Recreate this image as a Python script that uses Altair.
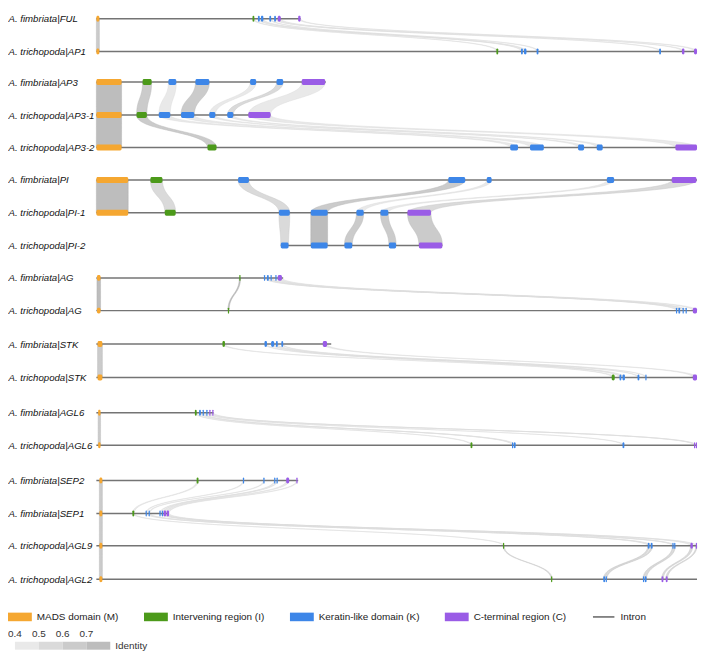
import json
import numpy as np
import pandas as pd
import altair as alt

# ---------------- data (positions in % of the longest gene of each family) -------------
ROWS = ["A. fimbriata|FUL", "A. trichopoda|AP1",
        "A. fimbriata|AP3", "A. trichopoda|AP3-1", "A. trichopoda|AP3-2",
        "A. fimbriata|PI", "A. trichopoda|PI-1", "A. trichopoda|PI-2",
        "A. fimbriata|AG", "A. trichopoda|AG",
        "A. fimbriata|STK", "A. trichopoda|STK",
        "A. fimbriata|AGL6", "A. trichopoda|AGL6",
        "A. fimbriata|SEP2", "A. fimbriata|SEP1", "A. trichopoda|AGL9", "A. trichopoda|AGL2"]

# vertical slot of each row (layout)
ROW_Y = [11.5, 45.0, 76.3, 110.1, 143.3, 176.5, 210.1, 243.6, 276.7, 310.2,
         344.4, 378.6, 414.7, 448.0, 484.1, 517.7, 550.8, 585.0]

GENE_START = [0, 0, 0, 0, 0, 0, 0, 30.7, 0, 0, 0, 0, 0, 0, 0, 0, 0, 0]
GENE_END = [34.0, 100, 38.2, 29.0, 100, 100, 55.7, 57.6, 31.1, 100,
            39.1, 100, 19.5, 100, 33.6, 12.1, 100, 100]

EX_FUL = [("M", 0, 0.5), ("I", 26.0, 26.3), ("K", 26.9, 27.2), ("K", 27.4, 27.8), ("K", 28.8, 29.1),
          ("K", 29.6, 29.9), ("C", 30.2, 30.7), ("C", 33.6, 34.0)]
EX_AP1 = [("M", 0, 0.5), ("I", 66.6, 66.9), ("K", 70.7, 71.0), ("K", 71.2, 71.6), ("K", 73.3, 73.6),
          ("K", 93.7, 94.0), ("C", 97.5, 97.9), ("C", 99.5, 100)]
EX_AP3 = [("M", 0, 4.2), ("I", 7.7, 9.2), ("K", 12.0, 13.3), ("K", 16.5, 18.8), ("K", 25.6, 26.6),
          ("K", 30.0, 31.1), ("C", 34.2, 38.1)]
EX_AP3_1 = [("M", 0, 4.2), ("I", 6.7, 8.4), ("K", 10.4, 12.3), ("K", 14.1, 16.3), ("K", 18.8, 19.8),
            ("K", 21.8, 22.8), ("C", 25.3, 29.0)]
EX_AP3_2 = [("M", 0, 4.2), ("I", 18.5, 20.0), ("K", 68.9, 70.2), ("K", 72.2, 74.5), ("K", 80.2, 81.2),
            ("K", 83.3, 84.3), ("C", 96.4, 100)]
EX_PI = [("M", 0, 5.3), ("I", 9.0, 11.0), ("K", 23.6, 25.4), ("K", 58.6, 61.4), ("K", 65.0, 65.8),
         ("K", 85.0, 86.2), ("C", 95.8, 99.9)]
EX_PI_1 = [("M", 0, 5.3), ("I", 11.4, 13.2), ("K", 30.4, 32.2), ("K", 35.7, 38.5), ("K", 43.3, 44.5),
           ("K", 47.3, 48.6), ("C", 51.8, 55.7)]
EX_PI_2 = [("K", 30.7, 32.0), ("K", 35.7, 38.5), ("K", 41.3, 42.6), ("K", 48.7, 49.9), ("C", 53.7, 57.6)]
EX_AG_F = [("M", 0.1, 0.7), ("I", 23.8, 24.0), ("K", 27.9, 28.1), ("K", 28.4, 28.7), ("K", 29.0, 29.2),
           ("K", 29.8, 30.0), ("C", 30.2, 30.9)]
EX_AG_T = [("M", 0.1, 0.7), ("I", 21.9, 22.1), ("K", 96.5, 96.7), ("K", 96.9, 97.2), ("K", 97.6, 97.8),
           ("K", 98.1, 98.3), ("C", 99.3, 100)]
EX_STK_F = [("M", 0.2, 1.0), ("I", 21.0, 21.4), ("K", 28.0, 28.4), ("K", 29.1, 29.6), ("K", 29.9, 30.2),
            ("K", 30.8, 31.1), ("C", 37.7, 38.4)]
EX_STK_T = [("M", 0.2, 1.0), ("I", 85.8, 86.3), ("K", 87.1, 87.4), ("K", 87.6, 88.0), ("K", 90.1, 90.4),
            ("K", 91.4, 91.6), ("C", 99.3, 100)]
EX_AGL6_F = [("M", 0.3, 0.7), ("I", 16.4, 16.7), ("K", 17.1, 17.4), ("K", 17.7, 17.9), ("K", 18.3, 18.5),
             ("C", 18.8, 19.0), ("C", 19.3, 19.5)]
EX_AGL6_T = [("M", 0.3, 0.7), ("I", 62.3, 62.6), ("K", 69.2, 69.4), ("K", 69.5, 69.8), ("K", 87.6, 87.9),
             ("C", 99.5, 99.7), ("C", 99.8, 100)]
EX_SEP2 = [("M", 0.5, 1.0), ("I", 16.7, 17.0), ("K", 24.4, 24.6), ("K", 27.8, 28.0), ("K", 29.6, 29.8),
           ("K", 30.0, 30.2), ("C", 31.6, 32.1), ("C", 33.3, 33.5)]
EX_SEP1 = [("M", 0.5, 1.0), ("I", 6.0, 6.3), ("K", 8.2, 8.4), ("K", 8.7, 8.9), ("K", 10.5, 10.7),
           ("K", 10.9, 11.1), ("C", 11.2, 11.6), ("C", 11.7, 12.1)]
EX_AGL9 = [("M", 0.5, 1.0), ("I", 67.7, 67.9), ("K", 91.8, 92.1), ("K", 92.3, 92.6), ("K", 95.9, 96.1),
           ("K", 96.2, 96.4), ("C", 98.9, 99.3), ("C", 99.8, 100)]
EX_AGL2 = [("M", 0.5, 1.0), ("I", 75.7, 75.9), ("K", 84.4, 84.7), ("K", 84.8, 85.0), ("K", 91.0, 91.2),
           ("K", 91.3, 91.6), ("C", 94.1, 94.4), ("C", 94.8, 95.1)]

EXONS = [EX_FUL, EX_AP1, EX_AP3, EX_AP3_1, EX_AP3_2, EX_PI, EX_PI_1, EX_PI_2,
         EX_AG_F, EX_AG_T, EX_STK_F, EX_STK_T, EX_AGL6_F, EX_AGL6_T,
         EX_SEP2, EX_SEP1, EX_AGL9, EX_AGL2]

# homology links: (upper row, exon idx, lower row, exon idx, identity)
LINKS_FUL = [(0, 0, 1, 0, 0.65), (0, 1, 1, 1, 0.45), (0, 2, 1, 2, 0.42), (0, 3, 1, 3, 0.42),
             (0, 4, 1, 4, 0.42), (0, 5, 1, 5, 0.42), (0, 6, 1, 6, 0.42), (0, 7, 1, 7, 0.42)]
LINKS_AP3 = [(2, 0, 3, 0, 0.75), (2, 1, 3, 1, 0.62), (2, 2, 3, 2, 0.42), (2, 3, 3, 3, 0.65),
             (2, 4, 3, 4, 0.42), (2, 5, 3, 5, 0.5), (2, 6, 3, 6, 0.48),
             (3, 0, 4, 0, 0.75), (3, 1, 4, 1, 0.62), (3, 2, 4, 2, 0.45), (3, 3, 4, 3, 0.45),
             (3, 4, 4, 4, 0.42), (3, 5, 4, 5, 0.42), (3, 6, 4, 6, 0.42)]
LINKS_PI = [(5, 0, 6, 0, 0.75), (5, 1, 6, 1, 0.55), (5, 2, 6, 2, 0.55), (5, 3, 6, 3, 0.62),
            (5, 4, 6, 4, 0.42), (5, 5, 6, 5, 0.45), (5, 6, 6, 6, 0.52),
            (6, 2, 7, 0, 0.55), (6, 3, 7, 1, 0.75), (6, 4, 7, 2, 0.65), (6, 5, 7, 3, 0.65),
            (6, 6, 7, 4, 0.65)]
LINKS_AG = [(8, 0, 9, 0, 0.7), (8, 1, 9, 1, 0.75), (8, 2, 9, 2, 0.42), (8, 3, 9, 3, 0.42),
            (8, 4, 9, 4, 0.42), (8, 5, 9, 5, 0.42), (8, 6, 9, 6, 0.42)]
LINKS_STK = [(10, 0, 11, 0, 0.65), (10, 1, 11, 1, 0.45), (10, 2, 11, 2, 0.45), (10, 3, 11, 3, 0.45),
             (10, 4, 11, 4, 0.45), (10, 5, 11, 5, 0.45), (10, 6, 11, 6, 0.45)]
LINKS_AGL6 = [(12, 0, 13, 0, 0.62), (12, 1, 13, 1, 0.42), (12, 2, 13, 2, 0.42), (12, 3, 13, 3, 0.42),
              (12, 4, 13, 4, 0.42), (12, 5, 13, 5, 0.42), (12, 6, 13, 6, 0.42)]
LINKS_SEP = [(14, i, 15, i, 0.65 if i == 0 else 0.48) for i in range(8)] + \
            [(15, i, 16, i, 0.65 if i == 0 else 0.42) for i in range(8)] + \
            [(16, i, 17, i, 0.65 if i == 0 else 0.5) for i in range(8)]
LINKS = LINKS_FUL + LINKS_AP3 + LINKS_PI + LINKS_AG + LINKS_STK + LINKS_AGL6 + LINKS_SEP

DOMAIN_NAMES = {"M": "MADS domain (M)", "I": "Intervening region (I)",
                "K": "Keratin-like domain (K)", "C": "C-terminal region (C)"}
LEGEND_ORDER = ["MADS domain (M)", "Intervening region (I)", "Keratin-like domain (K)",
                "C-terminal region (C)", "Intron"]
COLORS = ["#F5A731", "#4C9A1A", "#3D86E8", "#9A5CE6", "#747474"]
# identity bins 0.3-0.4 (unused, blank), 0.4-0.5, 0.5-0.6, 0.6-0.7, 0.7-0.8
ID_COLORS = ["#ffffff", "#e9e9e9", "#dadada", "#cbcbcb", "#bdbdbd"]
ID_STROKES = ["#ffffff", "#dcdcdc", "#c8c8c8", "#bababa", "#b0b0b0"]

# ---------------- tables -------------
exon_rows, intron_rows, ribbon_rows = [], [], []
for r, exs in enumerate(EXONS):
    intron_rows.append({"y": ROW_Y[r], "x": GENE_START[r], "x2": GENE_END[r], "domain": "Intron"})
    for d, s, e in exs:
        exon_rows.append({"y": ROW_Y[r], "x": s, "x2": e, "domain": DOMAIN_NAMES[d]})

T = np.linspace(0, 1, 41)
for k, (ra, ea, rb, eb, ident) in enumerate(LINKS):
    _, a0, a1 = EXONS[ra][ea]
    _, b0, b1 = EXONS[rb][eb]
    y0, y1 = ROW_Y[ra], ROW_Y[rb]
    ym = (y0 + y1) / 2
    for t in T:
        s = 3 * t * t - 2 * t ** 3
        yy = (1 - t) ** 3 * y0 + 3 * (1 - t) ** 2 * t * ym + 3 * (1 - t) * t * t * ym + t ** 3 * y1
        ribbon_rows.append({"link": k, "y": yy, "x": a0 + (b0 - a0) * s,
                            "x2": a1 + (b1 - a1) * s, "identity": ident})

exon_df = pd.DataFrame(exon_rows)
intron_df = pd.DataFrame(intron_rows)
ribbon_df = pd.DataFrame(ribbon_rows)
legend_df = pd.DataFrame({"domain": LEGEND_ORDER})

label_expr = ("[" + ",".join(json.dumps(r) for r in ROWS) + "][indexof(["
              + ",".join(str(v) for v in ROW_Y) + "], datum.value)]")

X = alt.X("x:Q", scale=alt.Scale(domain=[0, 100], nice=False, zero=False), axis=None)
X2 = alt.X2("x2:Q")
Y = alt.Y("y:Q", title=None,
          scale=alt.Scale(domain=[8, 648], reverse=True, nice=False, zero=False),
          axis=alt.Axis(values=ROW_Y, labelExpr=label_expr, domain=False, ticks=False, tickSize=0,
                        grid=False, labelAlign="left", labelPadding=89, labelFontSize=9.7,
                        labelFontStyle="italic", labelColor="#111111", labelLimit=0,
                        labelOverlap=False, labelFlush=False, labelBaseline="middle"))
color_scale = alt.Scale(domain=LEGEND_ORDER, range=COLORS)

ribbons = alt.Chart(ribbon_df).mark_area(orient="horizontal", strokeWidth=0.5).encode(
    y=Y, x=X, x2=X2,
    detail="link:N",
    fill=alt.Fill("identity:Q",
                  scale=alt.Scale(type="quantize", domain=[0.3, 0.8], range=ID_COLORS, nice=False),
                  legend=alt.Legend(type="gradient", orient="none", direction="horizontal",
                                    legendX=-106, legendY=636, gradientLength=120,
                                    gradientThickness=8, gradientStrokeWidth=0,
                                    labelOffset={"expr": "-21"}, labelFontSize=10,
                                    labelColor="#333333",
                                    labelOverlap=False, format=".1f",
                                    labelExpr="(datum.value >= 0.79 || datum.value < 0.35) ? '' : datum.label",
                                    title="Identity", titleOrient="right", titleFontSize=10,
                                    titleFontWeight="normal", titleColor="#333333", padding=0)),
    stroke=alt.Stroke("identity:Q",
                      scale=alt.Scale(type="quantize", domain=[0.3, 0.8], range=ID_STROKES, nice=False),
                      legend=None),
)

introns = alt.Chart(intron_df).mark_rule(strokeWidth=1.5).encode(
    y=Y, x=X, x2=X2, color=alt.Color("domain:N", scale=color_scale, legend=None))

exons = alt.Chart(exon_df).mark_bar(size=6, cornerRadius=1.5).encode(
    y=Y, x=X, x2=X2, color=alt.Color("domain:N", scale=color_scale, legend=None))

RECT = "M-1,-0.36H1V0.36H-1Z"
LINE = "M-0.9,-0.07H0.9V0.07H-0.9Z"
leg = alt.Legend(orient="none", direction="horizontal", legendX=-89, legendY=599, title=None,
                 symbolSize=576, symbolStrokeWidth=0, symbolOpacity=1, labelFontSize=10,
                 labelColor="#222222", labelOffset=5, columnPadding=25, padding=0, labelLimit=0)
legend_layer = alt.Chart(legend_df).mark_point(filled=True, opacity=0).encode(
    color=alt.Color("domain:N", scale=color_scale, legend=leg),
    shape=alt.Shape("domain:N", scale=alt.Scale(domain=LEGEND_ORDER,
                                                range=[RECT, RECT, RECT, RECT, LINE]), legend=leg),
)

chart = alt.layer(legend_layer, ribbons, introns, exons).properties(
    width=605, height=640,
    autosize=alt.AutoSizeParams(type="none"),
    padding={"left": 89, "top": 0, "right": 1, "bottom": 5},
).configure(font="Liberation Sans").configure_view(stroke=None)

chart.save("out.html", embed_options={"renderer": "svg", "actions": False})
